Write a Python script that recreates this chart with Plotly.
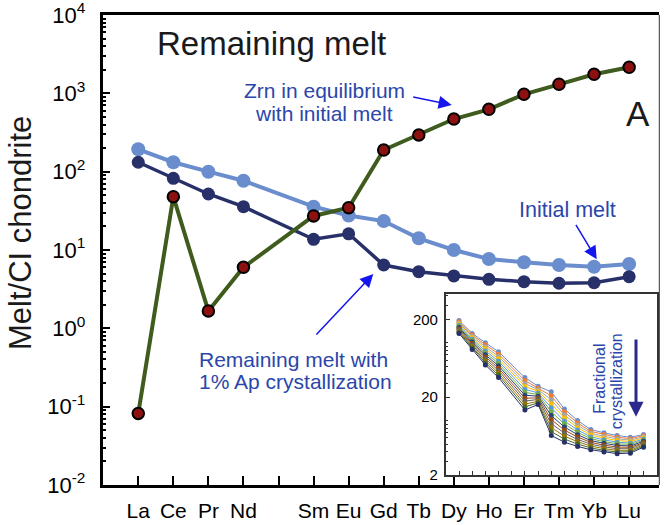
import plotly.graph_objects as go

# ---------------- data ----------------
elements = ["La", "Ce", "Pr", "Nd", "Pm", "Sm", "Eu", "Gd", "Tb", "Dy", "Ho", "Er", "Tm", "Yb", "Lu"]
tick_labels = ["La", "Ce", "Pr", "Nd", "", "Sm", "Eu", "Gd", "Tb", "Dy", "Ho", "Er", "Tm", "Yb", "Lu"]
ree = ["La", "Ce", "Pr", "Nd", "Sm", "Eu", "Gd", "Tb", "Dy", "Ho", "Er", "Tm", "Yb", "Lu"]

initial_melt = [193, 132, 100, 76.7, 35.7, 27.6, 23.4, 14.1, 10.0, 7.67, 6.97, 6.43, 6.12, 6.62]
remaining_melt = [132, 82.2, 51.9, 35.7, 13.7, 16.1, 6.43, 5.28, 4.66, 4.22, 3.94, 3.76, 3.82, 4.56]
zircon = [0.082, 47.9, 1.66, 6.01, 27.2, 34.7, 189, 294, 470, 625, 972, 1303, 1750, 2150]

# inset: fractional crystallization steps (top = initial melt, bottom = remaining melt)
fc_steps = [
    [193, 132, 100, 76.7, 35.7, 27.6, 23.4, 14.1, 10.0, 7.67, 6.97, 6.43, 6.12, 6.62],
    [187, 126.5, 94.2, 71.6, 32.7, 26.3, 20.8, 12.9, 9.33, 7.26, 6.61, 6.12, 5.86, 6.40],
    [180, 121.3, 88.7, 66.8, 30.0, 25.0, 18.5, 11.8, 8.71, 6.89, 6.28, 5.83, 5.62, 6.19],
    [174, 116.1, 83.6, 62.2, 27.5, 23.8, 16.4, 10.8, 8.11, 6.52, 5.96, 5.55, 5.38, 5.98],
    [168, 111.2, 78.7, 58.1, 25.2, 22.7, 14.6, 9.86, 7.57, 6.17, 5.66, 5.28, 5.15, 5.78],
    [163, 106.4, 74.1, 54.2, 23.1, 21.6, 13.0, 9.02, 7.06, 5.85, 5.37, 5.04, 4.94, 5.58],
    [157, 102.1, 70.0, 50.6, 21.2, 20.6, 11.6, 8.26, 6.59, 5.53, 5.11, 4.80, 4.73, 5.41],
    [152, 97.7, 65.9, 47.2, 19.4, 19.6, 10.3, 7.55, 6.15, 5.25, 4.84, 4.57, 4.54, 5.22],
    [147, 93.5, 62.1, 44.0, 17.8, 18.7, 9.14, 6.90, 5.73, 4.97, 4.60, 4.36, 4.35, 5.05],
    [142, 89.5, 58.5, 41.0, 16.3, 17.7, 8.13, 6.32, 5.35, 4.70, 4.37, 4.14, 4.16, 4.88],
    [137, 85.9, 55.1, 38.3, 15.0, 16.9, 7.23, 5.78, 4.99, 4.46, 4.14, 3.94, 3.99, 4.72],
    [132, 82.2, 51.9, 35.7, 13.7, 16.1, 6.43, 5.28, 4.66, 4.22, 3.94, 3.76, 3.82, 4.56],
]
fc_colors = ["#6A8DCE", "#ED7D31", "#A5A5A5", "#FFC000", "#5B9BD5", "#70AD47",
             "#264478", "#9E480E", "#636363", "#997300", "#43682B", "#28306A"]

y_ticks = [1e-2, 1e-1, 1e0, 1e1, 1e2, 1e3, 1e4]
y_ticktext = ["10<sup>-2</sup>", "10<sup>-1</sup>", "10<sup>0</sup>", "10<sup>1</sup>",
              "10<sup>2</sup>", "10<sup>3</sup>", "10<sup>4</sup>"]
inset_ticks = [2, 20, 200]
inset_ticktext = ["2", "20", "200"]

# ---------------- figure ----------------
W, H = 664, 525
FONT = "Liberation Sans, Arial, sans-serif"
LIGHT = "#6A8DCE"
NAVY = "#28306A"
GREEN = "#3F5C1E"
RED = "#8E1111"
TXTBLUE = "#2A46AA"
ARROW = "#1515F0"


def px(x):
    return x / W


def py(y):
    return 1 - y / H


xs = [elements.index(e) for e in ree]

fig = go.Figure()
fig.add_trace(go.Scatter(x=xs, y=initial_melt, mode="lines+markers",
                         line=dict(color=LIGHT, width=4),
                         marker=dict(color=LIGHT, size=14)))
fig.add_trace(go.Scatter(x=xs, y=remaining_melt, mode="lines+markers",
                         line=dict(color=NAVY, width=3.5),
                         marker=dict(color=NAVY, size=13)))
fig.add_trace(go.Scatter(x=xs, y=zircon, mode="lines+markers",
                         line=dict(color=GREEN, width=4),
                         marker=dict(color=RED, size=11.5, line=dict(color="black", width=2))))

for vals, col in zip(fc_steps, fc_colors):
    fig.add_trace(go.Scatter(x=xs, y=vals, mode="lines+markers", xaxis="x2", yaxis="y2",
                             line=dict(color=col, width=1),
                             marker=dict(color=col, size=5)))

minor_main = [m * 10 ** e for e in range(-2, 4) for m in range(2, 10)]
minor_inset = [m * 10 ** e for e in range(0, 3) for m in range(1, 10) if 2 <= m * 10 ** e <= 420 and m != 2]

fig.update_layout(
    width=W, height=H,
    margin=dict(l=0, r=0, t=0, b=0, autoexpand=False),
    paper_bgcolor="white", plot_bgcolor="white",
    showlegend=False,
    font=dict(family=FONT, color="black"),
    xaxis=dict(domain=[px(102.5), px(659.3)], range=[-1.02, 14.86], automargin=False,
               tickvals=list(range(len(elements))), ticktext=tick_labels,
               ticks="inside", ticklen=9, tickwidth=2, tickcolor="black",
               showline=True, linewidth=2.5, linecolor="black", mirror=True,
               showgrid=False, zeroline=False, ticklabeloverflow="allow",
               tickfont=dict(size=21, family=FONT), ticklabelstandoff=5),
    yaxis=dict(domain=[py(485), py(15)], type="log", range=[-2.0004, 4.0004], automargin=False,
               tickvals=y_ticks, ticktext=y_ticktext,
               ticks="inside", ticklen=8, tickwidth=2, tickcolor="black",
               minor=dict(tickvals=minor_main, ticks="inside", ticklen=4, tickwidth=1.5,
                          tickcolor="black", showgrid=False),
               showline=True, linewidth=2.5, linecolor="black",
               showgrid=False, zeroline=False, ticklabeloverflow="allow",
               tickfont=dict(size=22, family=FONT), ticklabelstandoff=10),
    xaxis2=dict(domain=[px(445.7), px(656.7)], range=[-1.01, 15], anchor="y2", automargin=False,
                tickvals=list(range(len(elements))), showticklabels=False,
                ticks="inside", ticklen=4, tickwidth=1, tickcolor="#333",
                showline=True, linewidth=1.5, linecolor="#333", mirror=True,
                showgrid=False, zeroline=False),
    yaxis2=dict(domain=[py(475), py(294.3)], type="log", range=[0.30103, 2.623], anchor="x2",
                automargin=False,
                tickvals=inset_ticks, ticktext=inset_ticktext,
                ticks="inside", ticklen=5, tickwidth=1, tickcolor="#333",
                minor=dict(tickvals=minor_inset, ticks="inside", ticklen=3, tickwidth=1,
                           tickcolor="#333", showgrid=False),
                showline=True, linewidth=1.5, linecolor="#333", mirror=True,
                showgrid=False, zeroline=False, ticklabeloverflow="allow",
                tickfont=dict(size=15, family=FONT), ticklabelstandoff=3),
)

# right border of main frame (thin)
fig.add_shape(type="line", xref="paper", yref="paper",
              x0=px(659.3), x1=px(659.3), y0=py(485), y1=py(15),
              line=dict(color="#333", width=1))

ann = []


def text(t, x, y, size, color, xanchor="center", angle=0):
    ann.append(dict(text=t, x=px(x), y=py(y), xref="paper", yref="paper",
                    xanchor=xanchor, yanchor="middle", showarrow=False, textangle=angle,
                    borderpad=0,
                    font=dict(size=size, color=color, family=FONT)))


def arrow(tipx, tipy, tailx, taily, color, width, size):
    ann.append(dict(text="", x=px(tipx), y=py(tipy), xref="paper", yref="paper",
                    ax=tailx - tipx, ay=taily - tipy, axref="pixel", ayref="pixel",
                    showarrow=True, arrowhead=2, arrowsize=size, arrowwidth=width,
                    arrowcolor=color, standoff=0))


text("Remaining melt", 271.5, 43.5, 33, "#1a1a1a")
text("Zrn in equilibrium", 324, 90.5, 21, TXTBLUE)
text("with initial melt", 324, 113, 21, TXTBLUE)
text("A", 637.5, 114, 35, "#1a1a1a")
text("Initial melt", 567.5, 209.5, 21.5, TXTBLUE)
text("Remaining melt with", 197.7, 359, 21, TXTBLUE, xanchor="left")
text("1% Ap crystallization", 197.7, 381.3, 21, TXTBLUE, xanchor="left")
text("Melt/CI chondrite", 20, 233, 31, "#1a1a1a", angle=-90)
text("Fractional", 598.8, 379, 16, TXTBLUE, angle=-90)
text("crystallization", 616.3, 381, 16, TXTBLUE, angle=-90)

arrow(451.7, 105, 411.7, 96.7, ARROW, 1.5, 1.75)
arrow(596.7, 259.3, 575, 223.3, ARROW, 1.5, 1.75)
arrow(373.3, 274, 315, 336, ARROW, 1.5, 1.75)
arrow(636, 416.7, 636, 338, "#2B2A8C", 3, 1.0)

fig.update_layout(annotations=ann)

fig.write_html("out.html")
